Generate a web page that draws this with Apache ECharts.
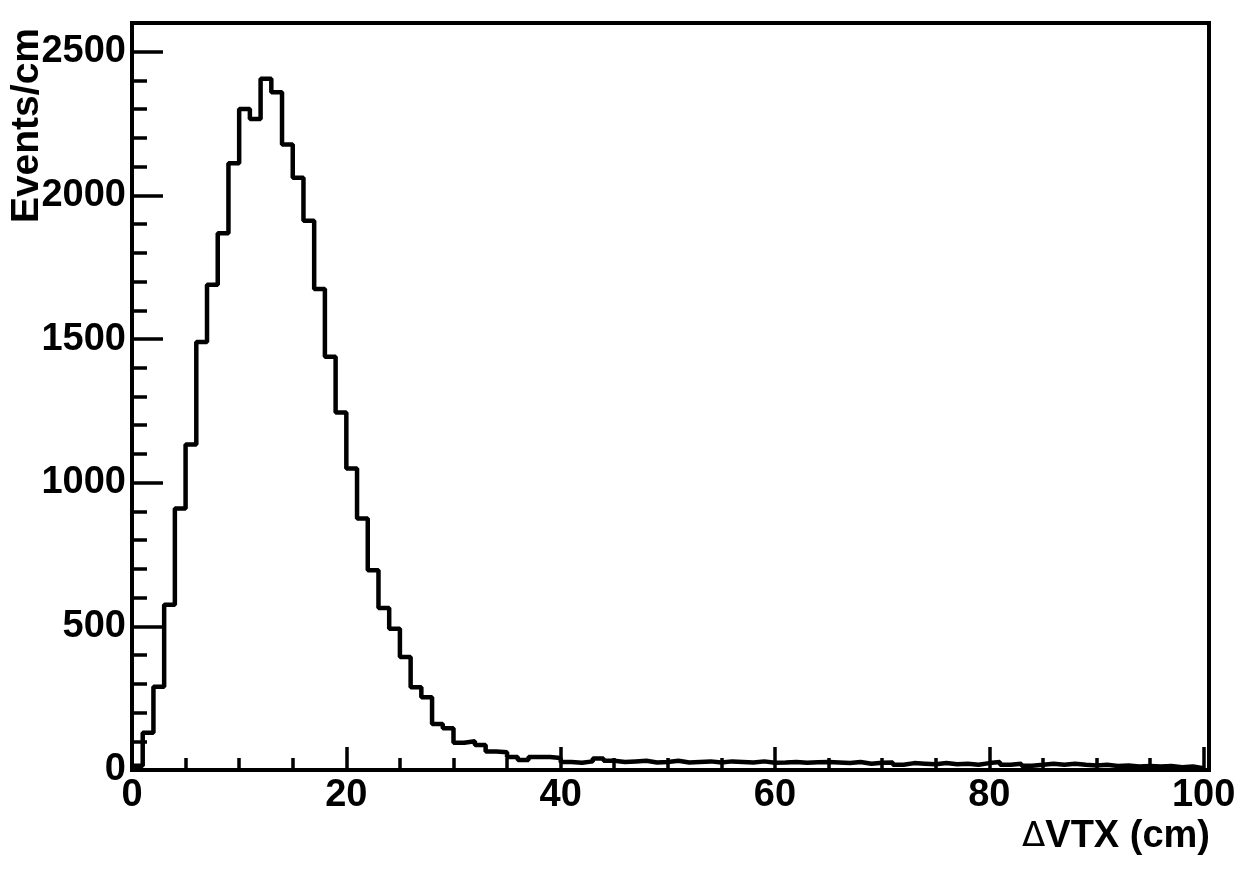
<!DOCTYPE html>
<html>
<head>
<meta charset="utf-8">
<title>Delta VTX</title>
<script src="https://cdn.jsdelivr.net/npm/echarts@6/dist/echarts.min.js"></script>
<style>
    html, body {
        margin: 0;
        padding: 0;
        background: #fff;
    }
    #chart {
        width: 1242px;
        height: 871px;
    }
</style>
</head>
<body>
<div id="chart"></div>
<script>
// histogram of ΔVTX, 1 cm bins from 0 to 100
const binEdges = [];
for (let i = 0; i <= 100; i++) binEdges.push(i);

const counts = [
    15, 130, 290, 575, 910, 1133, 1490, 1689, 1868, 2112,
    2301, 2266, 2406, 2359, 2177, 2061, 1912, 1674, 1438, 1244,
    1049, 875, 695, 564, 492, 393, 288, 253, 160, 145,
    95, 100, 87, 64, 62, 45, 35, 45, 45, 42,
    28, 25, 30, 40, 32, 28, 30, 32, 26, 28,
    32, 26, 28, 30, 26, 30, 28, 26, 30, 25,
    26, 28, 25, 27, 28, 26, 24, 28, 22, 25,
    26, 18, 24, 22, 20, 24, 20, 22, 18, 24,
    28, 18, 22, 15, 18, 22, 18, 22, 18, 16,
    18, 14, 16, 12, 14, 12, 14, 10, 12, 6
];

const xTitleSymbol = "\u0394";
const xTitle = "VTX (cm)";
const yTitle = "Events/cm";

const xMax = 100.5;
const yMax = 2600;

// step points: each bin value starts at its left edge, last one closes at 100
const stepData = counts.map((v, i) => [binEdges[i], v]);
stepData.push([binEdges[100], counts[counts.length - 1]]);

const font = "'Liberation Sans', Arial, Helvetica, sans-serif";

const chart = echarts.init(document.getElementById("chart"), null, { renderer: "canvas" });

const option = {
    animation: false,
    backgroundColor: "#fff",
    grid: {
        left: 132,
        right: 33,
        top: 23,
        bottom: 101,
        show: true,
        borderColor: "#000",
        borderWidth: 4,
        backgroundColor: "transparent",
    },
    xAxis: [
        {
            type: "value",
            min: 0,
            max: xMax,
            interval: 20,
            axisLine: { show: false },
            splitLine: { show: false },
            axisTick: {
                inside: true,
                length: 23,
                lineStyle: { color: "#000", width: 3.5 },
            },
            axisLabel: {
                margin: 7,
                color: "#000",
                fontFamily: font,
                fontWeight: "bold",
                fontSize: 38,
                formatter: (v) => (v % 20 === 0 ? String(v) : ""),
            },
        },
        {
            type: "value",
            min: 0,
            max: xMax,
            interval: 5,
            position: "bottom",
            axisLine: { show: false },
            splitLine: { show: false },
            axisLabel: { show: false },
            axisTick: {
                inside: true,
                length: 12,
                lineStyle: { color: "#000", width: 3.5 },
            },
        },
    ],
    yAxis: [
        {
            type: "value",
            min: 0,
            max: yMax,
            interval: 500,
            axisLine: { show: false },
            splitLine: { show: false },
            axisTick: {
                inside: true,
                length: 31,
                lineStyle: { color: "#000", width: 3.5 },
            },
            axisLabel: {
                margin: 6,
                color: "#000",
                fontFamily: font,
                fontWeight: "bold",
                fontSize: 38,
                formatter: (v) => (v % 500 === 0 ? String(v) : ""),
            },
        },
        {
            type: "value",
            min: 0,
            max: yMax,
            interval: 100,
            position: "left",
            axisLine: { show: false },
            splitLine: { show: false },
            axisLabel: { show: false },
            axisTick: {
                inside: true,
                length: 15,
                lineStyle: { color: "#000", width: 3.5 },
            },
        },
    ],
    series: [
        {
            type: "line",
            step: "end",
            xAxisIndex: 0,
            yAxisIndex: 0,
            symbol: "none",
            lineStyle: { color: "#000", width: 4.5 },
            data: stepData,
            z: 5,
        },
    ],
    graphic: [
        {
            type: "text",
            x: 27,
            y: 28,
            rotation: Math.PI / 2,
            style: {
                text: yTitle,
                fill: "#000",
                font: "bold 39px " + font,
                textAlign: "right",
                textVerticalAlign: "middle",
            },
        },
        {
            type: "text",
            x: 1210,
            y: 837,
            style: {
                text: "{sym|" + xTitleSymbol + "}" + xTitle,
                fill: "#000",
                font: "bold 38px " + font,
                textAlign: "right",
                textVerticalAlign: "middle",
                rich: {
                    sym: {
                        fontFamily: "'DejaVu Sans', sans-serif",
                        fontWeight: "normal",
                        fontSize: 34,
                        fill: "#000",
                    },
                },
            },
        },
    ],
};

chart.setOption(option);
</script>
</body>
</html>
